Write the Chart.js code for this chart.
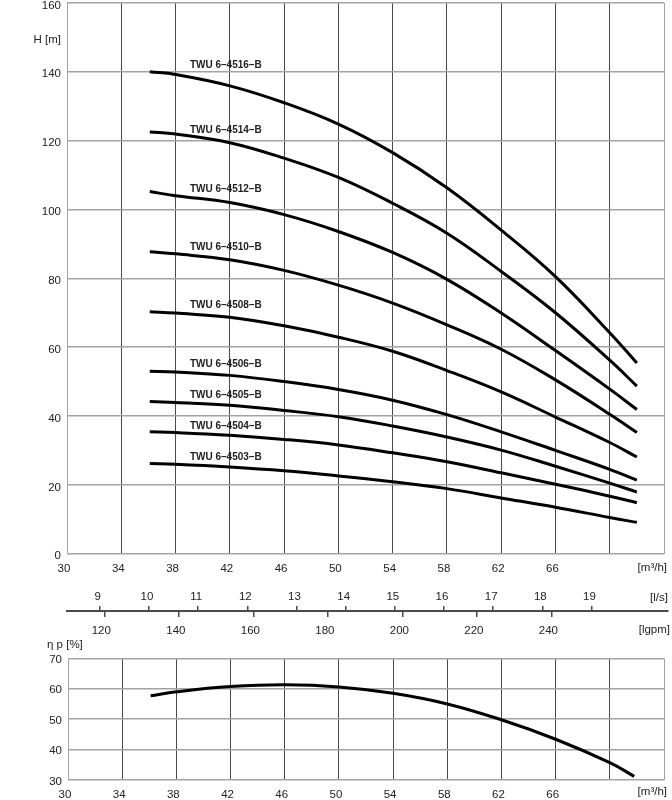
<!DOCTYPE html>
<html>
<head>
<meta charset="utf-8">
<script src="https://cdn.jsdelivr.net/npm/chart.js@4.4.0/dist/chart.umd.min.js"></script>
<style>
  body { margin: 0; background: #fff; }
  #page { position: relative; width: 672px; height: 800px; overflow: hidden; background: #fff; }
  canvas { position: absolute; left: 0; }
  #headChart { top: -10px; }
  #flowAxis { top: 580px; }
  #effChart { top: 632px; }
</style>
</head>
<body>
<div id="page">
  <canvas id="headChart" width="672" height="590"></canvas>
  <canvas id="flowAxis" width="672" height="65"></canvas>
  <canvas id="effChart" width="672" height="168"></canvas>
</div>
<script>
// Flow points [m3/h]
const flow = [36.1, 38, 42, 46, 50, 54, 58, 62, 66, 70, 72];

const models = ['TWU 6–4516–B', 'TWU 6–4514–B', 'TWU 6–4512–B', 'TWU 6–4510–B', 'TWU 6–4508–B',
                'TWU 6–4506–B', 'TWU 6–4505–B', 'TWU 6–4504–B', 'TWU 6–4503–B'];

// Head curves H [m]
const head4516 = [140.0, 139.2, 135.9, 131.0, 124.8, 116.5, 106.3, 94.0, 80.5, 64.2, 55.4];
const head4514 = [122.5, 121.9, 119.4, 114.9, 109.3, 101.8, 93.1, 82.0, 70.0, 56.2, 48.7];
const head4512 = [105.2, 104.0, 102.0, 98.5, 93.6, 87.5, 79.7, 69.9, 59.0, 47.8, 41.9];
const head4510 = [87.7, 87.1, 85.4, 82.3, 78.0, 72.8, 66.5, 59.4, 50.5, 40.5, 35.2];
const head4508 = [70.3, 69.9, 68.7, 66.2, 62.9, 58.8, 53.2, 47.0, 39.7, 32.3, 28.1];
const head4506 = [53.0, 52.8, 51.8, 50.0, 47.7, 44.6, 40.4, 35.4, 30.0, 24.5, 21.4];
const head4505 = [44.2, 43.9, 43.1, 41.6, 39.8, 37.1, 33.9, 30.1, 25.4, 20.5, 17.9];
const head4504 = [35.4, 35.2, 34.4, 33.2, 31.6, 29.3, 26.7, 23.5, 20.2, 16.7, 14.8];
const head4503 = [26.2, 26.0, 25.2, 24.1, 22.6, 20.9, 18.9, 16.2, 13.5, 10.5, 9.1];
const heads = [head4516, head4514, head4512, head4510, head4508, head4506, head4505, head4504, head4503];

// where the model names sit (flow, head)
const labelFlow = 41.7;
const labelHeads = [141.9, 123.1, 106.0, 88.9, 72.1, 55.0, 46.0, 37.0, 28.0];

// Efficiency curve
const effFlow = [36.1, 38, 42, 46, 50, 54, 58, 62, 66, 70, 71.8];
const efficiency = [57.7, 59.0, 60.7, 61.3, 60.6, 58.5, 55.0, 49.8, 43.4, 35.7, 31.2];

// Tick labels
const headTicks = [0, 20, 40, 60, 80, 100, 120, 140, 150, 160];
const effTicks = [30, 40, 50, 60, 70];
const litreTicks = [9, 10, 11, 12, 13, 14, 15, 16, 17, 18, 19];
const gallonTicks = [120, 140, 160, 180, 200, 220, 240];

const IGPM_PER_M3H = 219.969 / 60;
const DARK = '#4a4a4a';
const GREY = '#a3a3a3';
const TEXT = '#222';
const tickFont = { family: 'Liberation Sans', size: 11.5 };

// draws free text (units, curve names) on a chart
function textPlugin(id, draw) {
  return {
    id: id,
    afterDatasetsDraw(chart) {
      const ctx = chart.ctx;
      ctx.save();
      ctx.fillStyle = TEXT;
      draw(chart, ctx);
      ctx.restore();
    }
  };
}

function flowAxis(height) {
  return {
    type: 'linear',
    min: 30,
    max: 74,
    ticks: {
      stepSize: 4,
      autoSkip: false,
      maxRotation: 0,
      padding: 8,
      labelOffset: -3,
      color: TEXT,
      font: tickFont,
      callback: v => (v >= 70 ? '' : v)
    },
    grid: {
      drawTicks: false,
      lineWidth: 1,
      color: c => (c.tick && (c.tick.value === 30 || c.tick.value === 74) ? GREY : DARK)
    },
    border: { display: false },
    afterFit: s => { s.height = height; }
  };
}

function curve(label, xs, ys) {
  return {
    label: label,
    data: xs.map((q, j) => ({ x: q, y: ys[j] })),
    borderColor: '#000',
    borderWidth: 3,
    pointRadius: 0,
    tension: 0.4,
    fill: false
  };
}

// ---------- H(Q) chart ----------
new Chart(document.getElementById('headChart'), {
  type: 'line',
  data: {
    datasets: heads.map((h, i) => curve(models[i], flow, h))
  },
  options: {
    responsive: false,
    animation: false,
    layout: { padding: { top: 11.7, right: 4, left: 0, bottom: 0 } },
    plugins: { legend: { display: false }, tooltip: { enabled: false } },
    scales: {
      x: flowAxis(26.3),
      y: {
        min: 0,
        max: 160,
        afterBuildTicks: s => { s.ticks = headTicks.map(v => ({ value: v })); },
        ticks: {
          padding: 6,
          labelOffset: 2.5,
          color: TEXT,
          font: tickFont,
          callback: v => (v === 150 ? 'H [m]' : v)
        },
        grid: {
          drawTicks: false,
          lineWidth: 1.5,
          color: c => (c.tick && c.tick.value === 150 ? 'rgba(0,0,0,0)' : GREY)
        },
        border: { display: false },
        afterFit: s => { s.width = 67; }
      }
    }
  },
  plugins: [textPlugin('headText', (chart, ctx) => {
    const { x, y } = chart.scales;
    ctx.font = 'bold 10px "Liberation Sans"';
    ctx.textAlign = 'center';
    ctx.textBaseline = 'middle';
    models.forEach((m, i) => {
      ctx.fillText(m, x.getPixelForValue(labelFlow), y.getPixelForValue(labelHeads[i]));
    });
    ctx.font = '11.5px "Liberation Sans"';
    ctx.textAlign = 'right';
    ctx.fillText('[m³/h]', 667, 578.3);
  })]
});

// ---------- l/s and lgpm scale ----------
new Chart(document.getElementById('flowAxis'), {
  type: 'line',
  data: { datasets: [] },
  options: {
    responsive: false,
    animation: false,
    layout: { padding: { top: 0, right: 4, left: 67, bottom: 0 } },
    plugins: { legend: { display: false }, tooltip: { enabled: false } },
    scales: {
      ls: {
        type: 'linear',
        axis: 'x',
        position: 'top',
        min: 30 / 3.6,
        max: 74 / 3.6,
        afterBuildTicks: s => { s.ticks = litreTicks.map(v => ({ value: v })); },
        ticks: { padding: 2, labelOffset: -2, color: TEXT, font: tickFont, maxRotation: 0, autoSkip: false },
        grid: { drawOnChartArea: false, tickLength: 5, lineWidth: 1.5, color: DARK },
        border: { color: DARK, width: 2 },
        afterFit: s => { s.height = 31; }
      },
      gpm: {
        type: 'linear',
        axis: 'x',
        position: 'bottom',
        min: 30 * IGPM_PER_M3H,
        max: 74 * IGPM_PER_M3H,
        afterBuildTicks: s => { s.ticks = gallonTicks.map(v => ({ value: v })); },
        ticks: { padding: 7, labelOffset: -3, color: TEXT, font: tickFont, maxRotation: 0, autoSkip: false },
        grid: { drawOnChartArea: false, tickLength: 5, lineWidth: 1.5, color: DARK },
        border: { display: false },
        afterFit: s => { s.height = 33; }
      },
      y: { display: false, min: 0, max: 1 }
    }
  },
  plugins: [textPlugin('flowText', (chart, ctx) => {
    ctx.font = '11.5px "Liberation Sans"';
    ctx.textAlign = 'right';
    ctx.textBaseline = 'middle';
    ctx.fillText('[l/s]', 668, 17.7);
    ctx.fillText('[lgpm]', 670, 50);
  })]
});

// ---------- efficiency chart ----------
new Chart(document.getElementById('effChart'), {
  type: 'line',
  data: {
    datasets: [curve('η p', effFlow, efficiency)]
  },
  options: {
    responsive: false,
    animation: false,
    layout: { padding: { top: 26.3, right: 5, left: 0, bottom: 0 } },
    plugins: { legend: { display: false }, tooltip: { enabled: false } },
    scales: {
      x: flowAxis(20),
      y: {
        min: 30,
        max: 70,
        afterBuildTicks: s => { s.ticks = effTicks.map(v => ({ value: v })); },
        ticks: { padding: 6, labelOffset: 1.5, color: TEXT, font: tickFont },
        grid: { drawTicks: false, lineWidth: 1.5, color: GREY },
        border: { display: false },
        afterFit: s => { s.width = 68; }
      }
    }
  },
  plugins: [textPlugin('effText', (chart, ctx) => {
    ctx.font = '11.5px "Liberation Sans"';
    ctx.textBaseline = 'middle';
    ctx.textAlign = 'left';
    ctx.fillText('η p [%]', 47, 13);
    ctx.textAlign = 'right';
    ctx.fillText('[m³/h]', 667, 159.7);
  })]
});
</script>
</body>
</html>
